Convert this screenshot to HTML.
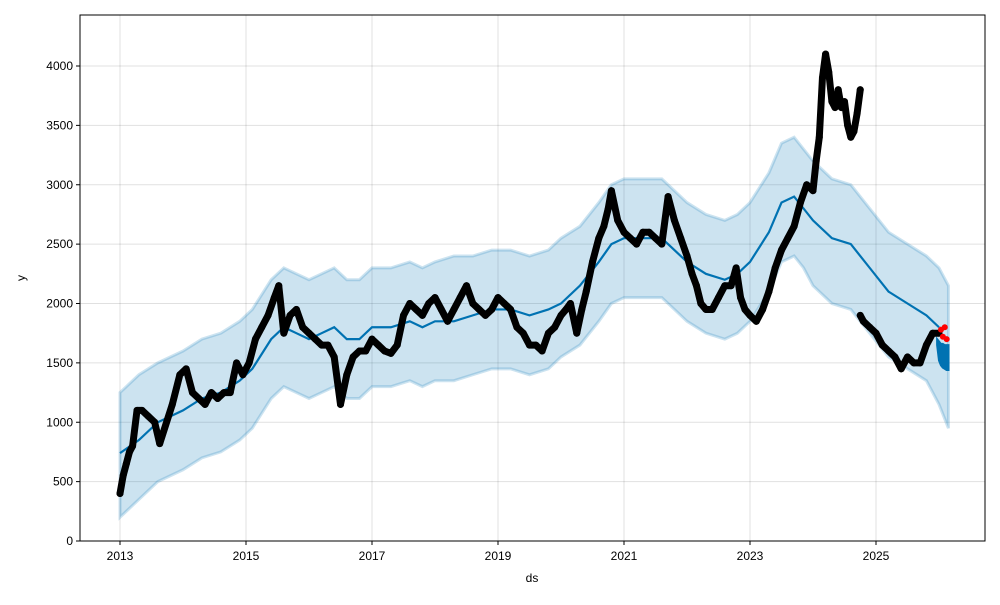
<!DOCTYPE html>
<html><head><meta charset="utf-8"><style>
body{margin:0;background:#fff;font-family:"Liberation Sans",sans-serif}
svg text{font-family:"Liberation Sans",sans-serif;font-size:12px;fill:#000}
</style></head><body>
<svg id="chart" width="1000" height="600" viewBox="0 0 1000 600">
<rect x="0" y="0" width="1000" height="600" fill="#fff"/>
<g id="grid"></g>
<g id="band"></g>
<g id="fc"></g>
<g id="obs"></g>
<g id="axes"></g>
<text x="532" y="582" text-anchor="middle" font-size="13">ds</text>
<text x="25" y="278" text-anchor="middle" transform="rotate(-90 25 278)">y</text>
</svg>
<script>
const xTicks=[2013,2015,2017,2019,2021,2023,2025];
const yTicks=[0,500,1000,1500,2000,2500,3000,3500,4000];
const obsDates=[2013.0,2013.05,2013.1,2013.15,2013.2,2013.27,2013.35,2013.45,2013.55,2013.63,2013.83,2013.95,2014.05,2014.15,2014.25,2014.35,2014.45,2014.55,2014.65,2014.75,2014.85,2014.95,2015.05,2015.15,2015.25,2015.35,2015.45,2015.52,2015.6,2015.7,2015.8,2015.9,2016.0,2016.1,2016.2,2016.3,2016.4,2016.5,2016.6,2016.7,2016.8,2016.9,2017.0,2017.1,2017.2,2017.3,2017.4,2017.5,2017.6,2017.7,2017.8,2017.9,2018.0,2018.1,2018.2,2018.3,2018.4,2018.5,2018.6,2018.7,2018.8,2018.9,2019.0,2019.1,2019.2,2019.3,2019.4,2019.5,2019.6,2019.7,2019.8,2019.9,2020.0,2020.08,2020.15,2020.25,2020.33,2020.4,2020.5,2020.6,2020.68,2020.75,2020.8,2020.9,2021.0,2021.1,2021.2,2021.3,2021.4,2021.5,2021.6,2021.7,2021.8,2021.9,2022.0,2022.08,2022.15,2022.22,2022.3,2022.4,2022.5,2022.6,2022.7,2022.78,2022.85,2022.92,2023.0,2023.1,2023.2,2023.3,2023.4,2023.5,2023.6,2023.7,2023.8,2023.9,2024.0,2024.05,2024.1,2024.15,2024.2,2024.25,2024.3,2024.35,2024.4,2024.45,2024.5,2024.55,2024.6,2024.65,2024.7,2024.75,null,2024.75,2024.8,2024.9,2025.0,2025.1,2025.2,2025.3,2025.4,2025.5,2025.6,2025.7,2025.8,2025.9,2026.0];
const obsValues=[400,550,650,750,800,1100,1100,1050,1000,820,1150,1400,1450,1250,1200,1150,1250,1200,1250,1250,1500,1400,1500,1700,1800,1900,2050,2150,1750,1900,1950,1800,1750,1700,1650,1650,1550,1150,1400,1550,1600,1600,1700,1650,1600,1580,1650,1900,2000,1950,1900,2000,2050,1950,1850,1950,2050,2150,2000,1950,1900,1950,2050,2000,1950,1800,1750,1650,1650,1600,1750,1800,1900,1950,2000,1750,1950,2100,2350,2550,2650,2800,2950,2700,2600,2550,2500,2600,2600,2550,2500,2900,2700,2550,2400,2250,2150,2000,1950,1950,2050,2150,2150,2300,2050,1950,1900,1850,1950,2100,2300,2450,2550,2650,2850,3000,2950,3200,3400,3900,4100,3950,3700,3650,3800,3650,3700,3500,3400,3450,3600,3800,null,1900,1850,1800,1750,1650,1600,1550,1450,1550,1500,1500,1650,1750,1750];
const redDates=[2026.0,2026.03,2026.06,2026.09];
const redValues=[1780,1720,1800,1700];
const fcDates=[2013.0,2013.3,2013.6,2014.0,2014.3,2014.6,2014.9,2015.1,2015.4,2015.6,2015.8,2016.0,2016.2,2016.4,2016.6,2016.8,2017.0,2017.3,2017.6,2017.8,2018.0,2018.3,2018.6,2018.9,2019.2,2019.5,2019.8,2020.0,2020.3,2020.6,2020.8,2021.0,2021.3,2021.6,2021.8,2022.0,2022.3,2022.6,2022.8,2023.0,2023.3,2023.5,2023.7,2023.85,2024.0,2024.3,2024.6,2024.9,2025.2,2025.5,2025.8,2026.0];
const fcValues=[740,850,1000,1100,1200,1250,1350,1450,1700,1800,1750,1700,1750,1800,1700,1700,1800,1800,1850,1800,1850,1850,1900,1950,1950,1900,1950,2000,2150,2350,2500,2550,2550,2550,2450,2350,2250,2200,2250,2350,2600,2850,2900,2800,2700,2550,2500,2300,2100,2000,1900,1800];
const fcTailDates=[2025.97,2026.0,2026.03,2026.06,2026.09,2026.12,2026.15];
const fcTailHigh=[1700,1680,1660,1660,1650,1650,1650];
const fcTailLow=[1650,1520,1480,1460,1450,1440,1440];
const bandDates=[2013.0,2013.3,2013.6,2014.0,2014.3,2014.6,2014.9,2015.1,2015.4,2015.6,2015.8,2016.0,2016.2,2016.4,2016.6,2016.8,2017.0,2017.3,2017.6,2017.8,2018.0,2018.3,2018.6,2018.9,2019.2,2019.5,2019.8,2020.0,2020.3,2020.6,2020.8,2021.0,2021.3,2021.6,2021.8,2022.0,2022.3,2022.6,2022.8,2023.0,2023.3,2023.5,2023.7,2023.85,2024.0,2024.3,2024.6,2024.9,2025.2,2025.5,2025.8,2026.0,2026.15];
const bandUpper=[1250,1400,1500,1600,1700,1750,1850,1950,2200,2300,2250,2200,2250,2300,2200,2200,2300,2300,2350,2300,2350,2400,2400,2450,2450,2400,2450,2550,2650,2850,3000,3050,3050,3050,2950,2850,2750,2700,2750,2850,3100,3350,3400,3300,3200,3050,3000,2800,2600,2500,2400,2300,2150];
const bandLower=[200,350,500,600,700,750,850,950,1200,1300,1250,1200,1250,1300,1200,1200,1300,1300,1350,1300,1350,1350,1400,1450,1450,1400,1450,1550,1650,1850,2000,2050,2050,2050,1950,1850,1750,1700,1750,1850,2100,2350,2400,2300,2150,2000,1950,1750,1550,1450,1350,1150,950];

const NS="http://www.w3.org/2000/svg";
const X0=80,X1=985,Y0=15,Y1=541;
function xs(d){return 120+(d-2013)*63;}
function ys(v){return 541-v*0.11875;}
function mk(tag,attrs,parent){const e=document.createElementNS(NS,tag);for(const k in attrs)e.setAttribute(k,attrs[k]);parent.appendChild(e);return e;}
const grid=document.getElementById('grid'),axes=document.getElementById('axes');
xTicks.forEach(t=>{
  const l=mk('line',{x1:xs(t),x2:xs(t),y1:Y0,y2:Y1,stroke:'#000','stroke-opacity':0.12,'stroke-width':1},grid);
  
  
  const tk=mk('line',{x1:xs(t),x2:xs(t),y1:Y1,y2:Y1+4,stroke:'#000'},axes);
  
  
  const tx=mk('text',{x:xs(t),y:Y1+19,'text-anchor':'middle'},axes);tx.textContent=t;
  
  
});
yTicks.forEach(t=>{
  const l=mk('line',{x1:X0,x2:X1,y1:ys(t),y2:ys(t),stroke:'#000','stroke-opacity':0.12,'stroke-width':1},grid);
  
  
  const tk=mk('line',{x1:X0-4,x2:X0,y1:ys(t),y2:ys(t),stroke:'#000'},axes);
  
  
  const tx=mk('text',{x:X0-7,y:ys(t)+4,'text-anchor':'end'},axes);tx.textContent=t;
  
  
});
const frame=mk('rect',{x:X0,y:Y0,width:X1-X0,height:Y1-Y0,fill:'none',stroke:'#000','stroke-width':1},axes);


const band=document.getElementById('band');
let up=bandDates.map((d,i)=>xs(d)+','+ys(bandUpper[i]));
let lo=bandDates.map((d,i)=>xs(d)+','+ys(bandLower[i])).reverse();
const bp=mk('polygon',{points:up.concat(lo).join(' '),fill:'#0072B2','fill-opacity':0.2,stroke:'#0072B2','stroke-opacity':0.2,'stroke-width':3},band);


const fc=document.getElementById('fc');
const fl=mk('polyline',{points:fcDates.map((d,i)=>xs(d)+','+ys(fcValues[i])).join(' '),fill:'none',stroke:'#0072B2','stroke-width':2.2},fc);


let th=fcTailDates.map((d,i)=>xs(d)+','+ys(fcTailHigh[i]));
let tl=fcTailDates.map((d,i)=>xs(d)+','+ys(fcTailLow[i])).reverse();
const tp=mk('polygon',{points:th.concat(tl).join(' '),fill:'#0072B2',stroke:'#0072B2','stroke-width':2},fc);


const obs=document.getElementById('obs');
let seg=[];
function flush(){if(seg.length>1){const p=mk('polyline',{points:seg.join(' '),fill:'none',stroke:'#000','stroke-width':7,'stroke-linejoin':'round','stroke-linecap':'round'},obs);

}seg=[];}
obsDates.forEach((d,i)=>{if(d===null){flush();return;}seg.push(xs(d)+','+ys(obsValues[i]));});
flush();
obsDates.forEach((d,i)=>{if(d===null)return;
  const c=mk('circle',{cx:xs(d),cy:ys(obsValues[i]),r:3.5,fill:'#000'},obs);
  
  });
redDates.forEach((d,i)=>{
  const c=mk('circle',{cx:xs(d)+2,cy:ys(redValues[i]),r:3,fill:'#f00'},obs);
  
  });
</script>
</body></html>
